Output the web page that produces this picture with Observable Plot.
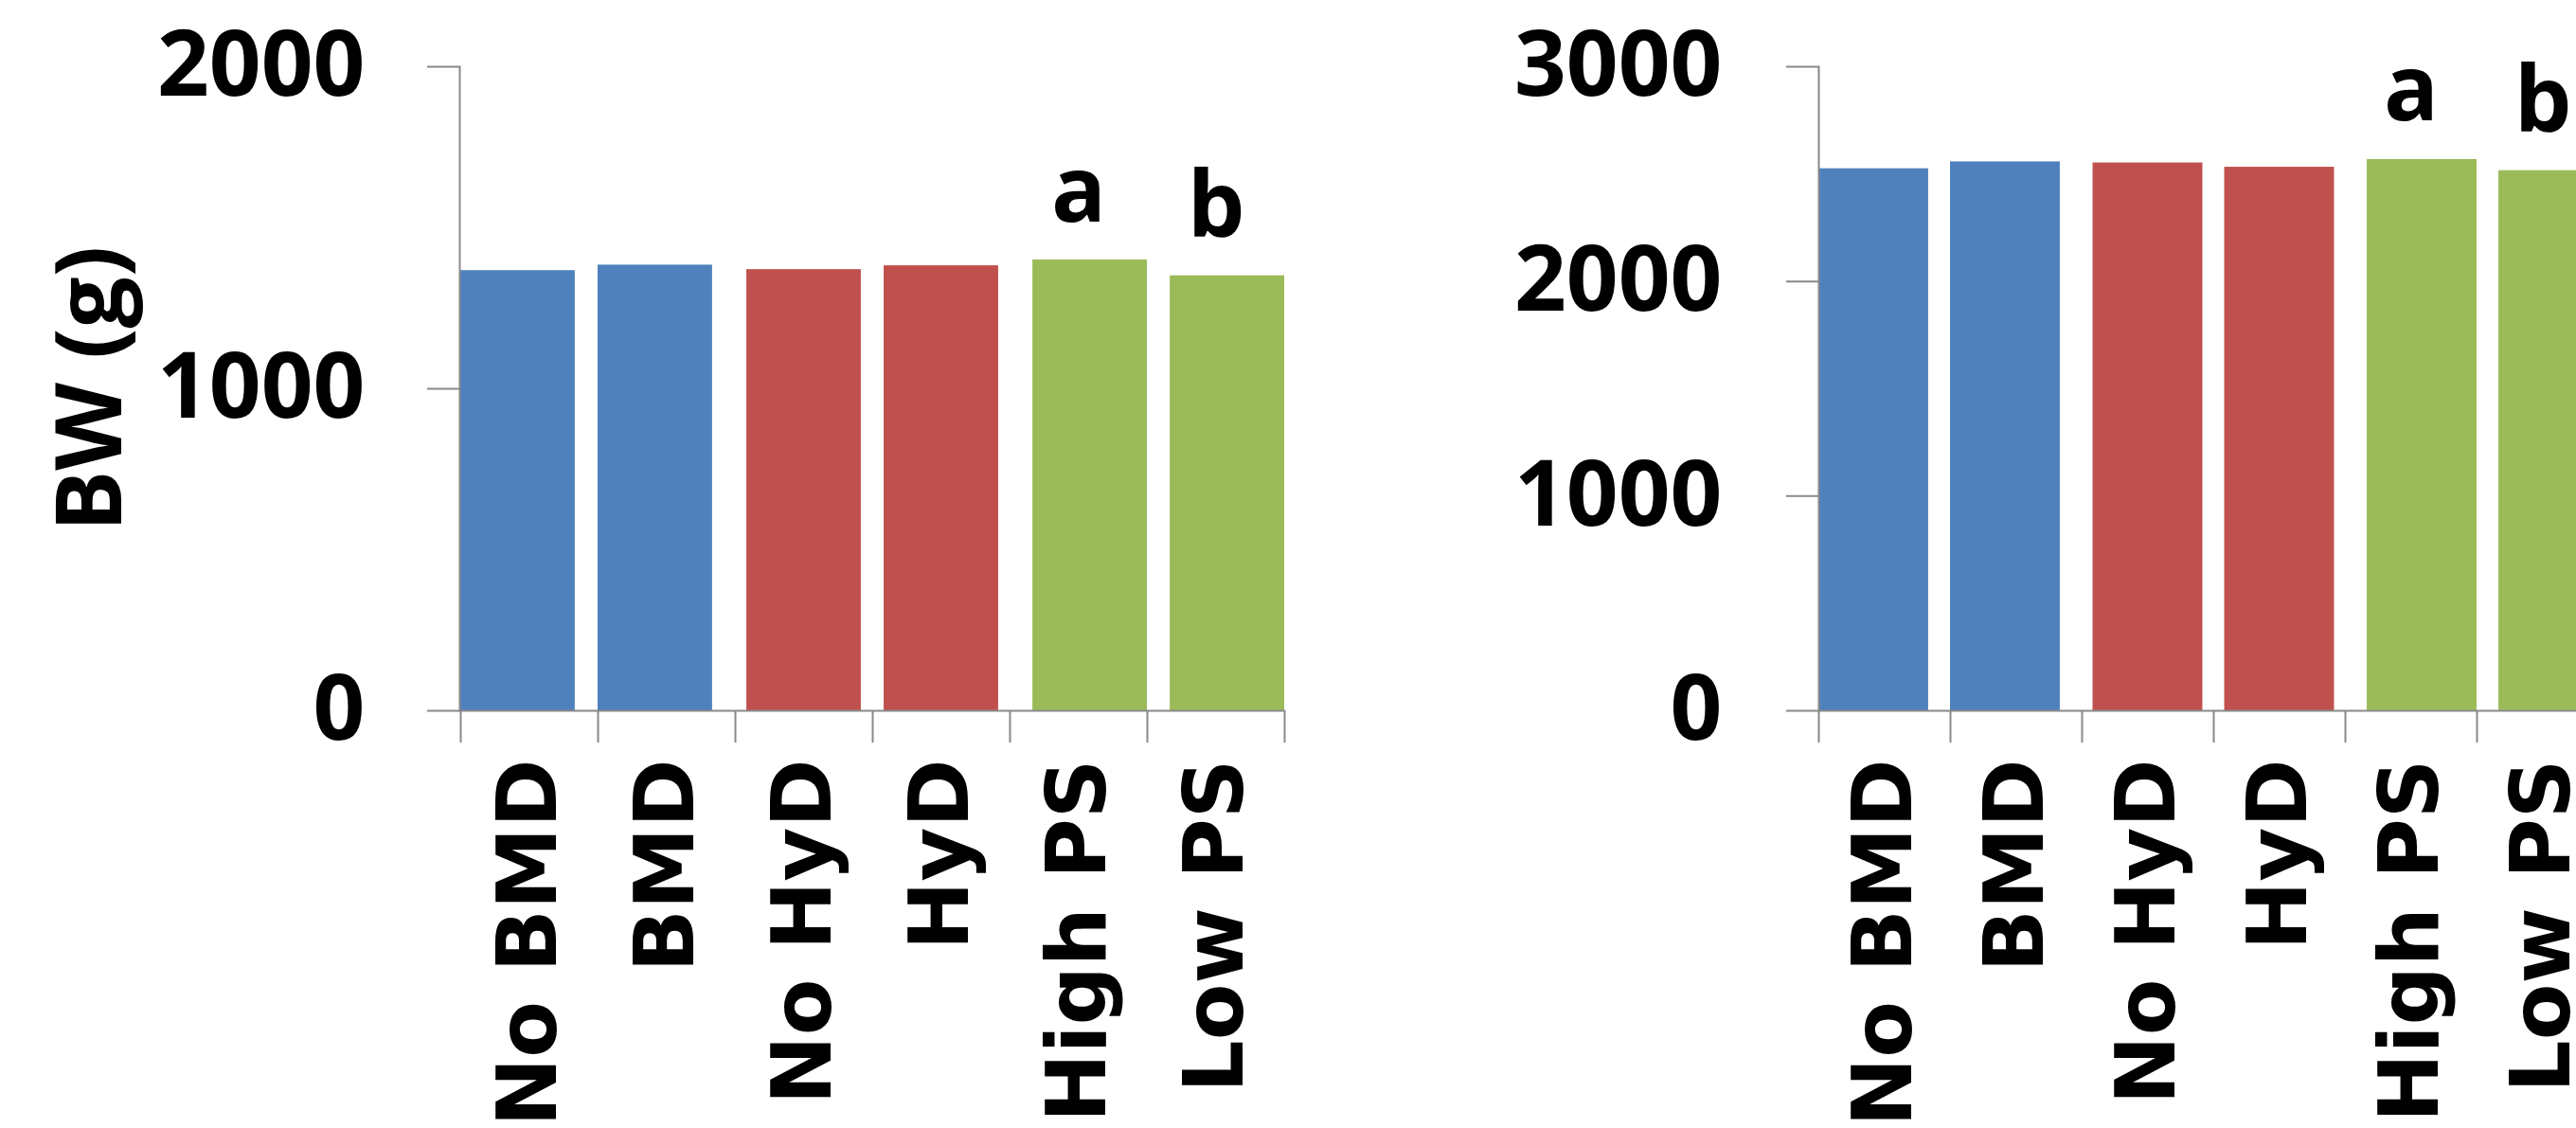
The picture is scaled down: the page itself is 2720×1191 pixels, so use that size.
<!DOCTYPE html>
<html>
<head>
<meta charset="utf-8">
<script src="https://cdn.jsdelivr.net/npm/d3@7"></script>
<script src="https://cdn.jsdelivr.net/npm/@observablehq/plot@0.6"></script>
<style>
  html, body { margin: 0; padding: 0; background: #fff; }
  #wrap { position: relative; width: 2720px; height: 1191px; overflow: hidden; display: flex; }
  #wrap > svg { flex: none; }
</style>
</head>
<body>
<div id="wrap"></div>
<script>
// Body weight (g) by treatment, two ages
const categories = ["No BMD", "BMD", "No HyD", "HyD", "High PS", "Low PS"];
const groups = ["BMD", "BMD", "HyD", "HyD", "PS", "PS"];
const bwLeft = [1367, 1384, 1370, 1382, 1400, 1351];
const bwRight = [2525, 2557, 2552, 2532, 2568, 2516];
const letters = ["", "", "", "", "a", "b"];
const ticksLeft = [0, 1000, 2000];
const ticksRight = [0, 1000, 2000, 3000];
const groupColors = { BMD: "#4F81BD", HyD: "#C0504D", PS: "#9BBB59" };

const AXIS = "#898989";
const NUM_FONT = "'Open Sans', Lato, sans-serif";
const CAT_FONT = "'DejaVu Sans', sans-serif";
const H = 1191, MT = 70, MB = 441;

// Tick marks on the category axis sit on band boundaries
function boundaryTicks(len) {
  return (index, scales, values, dims) => {
    const x = scales.x;
    const step = x(categories[1]) - x(categories[0]);
    const y0 = dims.height - dims.marginBottom;
    const xs = categories.map(c => x(c)).concat([x(categories[categories.length - 1]) + step]);
    const g = d3.create("svg:g").attr("stroke", AXIS).attr("stroke-width", 2);
    g.selectAll("line").data(xs).join("line")
      .attr("x1", d => Math.round(d) + 0.5).attr("x2", d => Math.round(d) + 0.5)
      .attr("y1", y0).attr("y2", y0 + len);
    return g.node();
  };
}

function panel({values, ticks, yMax, width, marginLeft, marginRight, tickPadding, yLabel}) {
  const rows = categories.map((c, i) => ({cat: c, group: groups[i], v: values[i], label: letters[i]}));
  const step = (width - marginLeft - marginRight) / categories.length;
  const gap = step * 0.166;
  const bar = (g, insetLeft, insetRight) => Plot.barY(rows.filter(d => d.group === g), {
    x: "cat", y: "v", fill: groupColors[g], insetLeft, insetRight
  });
  const marks = [
    bar("BMD", 0, gap),
    bar("HyD", gap / 2, gap / 2),
    bar("PS", gap, 0),
    Plot.frame({anchor: "left", stroke: AXIS, strokeWidth: 2}),
    Plot.ruleY([0], {stroke: AXIS, strokeWidth: 2}),
    boundaryTicks(34),
    Plot.axisY(ticks, {
      tickSize: 34, tickPadding, tickFormat: d => String(d), stroke: AXIS, strokeWidth: 2,
      fontSize: 96, fontWeight: 700, fontFamily: NUM_FONT, fill: "#000", label: null
    }),
    Plot.axisX({
      tickSize: 0, tickRotate: -90, tickPadding: 51,
      fontSize: 87, fontWeight: 700, fontFamily: CAT_FONT, fill: "#000", label: null
    }),
    Plot.text(rows.filter(d => d.label), {
      x: "cat", y: "v", text: "label", lineAnchor: "bottom", dy: -41,
      fontSize: 96, fontWeight: 700, fontFamily: NUM_FONT, fill: "#000"
    })
  ];
  if (yLabel) {
    marks.push(Plot.text([yLabel], {
      frameAnchor: "left", textAnchor: "middle", rotate: -90, dx: 97 - marginLeft, lineAnchor: "middle",
      fontSize: 96, fontWeight: 700, fontFamily: NUM_FONT, fill: "#000"
    }));
  }
  return Plot.plot({
    width, height: H, marginTop: MT, marginBottom: MB, marginLeft, marginRight,
    style: {background: "#fff", overflow: "visible", fontFamily: NUM_FONT},
    x: {type: "band", domain: categories, padding: 0},
    y: {domain: [0, yMax]},
    marks
  });
}

const wrap = document.getElementById("wrap");
wrap.append(panel({
  values: bwLeft, ticks: ticksLeft, yMax: 2000,
  width: 1400, marginLeft: 485, marginRight: 43, tickPadding: 66, yLabel: "BW (g)"
}));
wrap.append(panel({
  values: bwRight, ticks: ticksRight, yMax: 3000,
  width: 1374, marginLeft: 520, marginRight: 20, tickPadding: 68
}));
</script>
</body>
</html>
